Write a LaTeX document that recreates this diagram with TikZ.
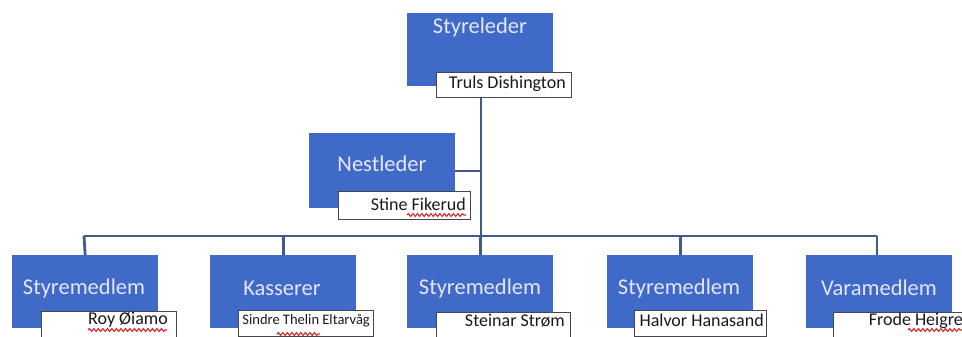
\documentclass[tikz,border=0pt]{standalone}
\usepackage{fontspec}
\setmainfont{Carlito}
\usetikzlibrary{decorations.pathmorphing}
\definecolor{boxblue}{RGB}{64,106,200}
\definecolor{linecol}{RGB}{66,90,138}
\definecolor{namebord}{RGB}{70,70,80}
\definecolor{squig}{RGB}{215,40,40}
\tikzset{
  titlebox/.style={fill=boxblue, draw=none, minimum width=146, minimum height=73, anchor=north west, inner sep=0},
  titletext/.style={text=white!90!blue, font=\fontsize{22.5}{26}\selectfont, inner sep=0},
  namebox/.style={fill=white, draw=namebord, line width=1.2, minimum width=134, minimum height=26, anchor=north west, inner sep=0},
  nametext/.style={text=black!90, font=\fontsize{18}{21}\selectfont, inner sep=0, anchor=east},
  conn/.style={draw=linecol, line width=2.8},
  spell/.style={draw=squig, line width=1.1, decorate, decoration={snake, amplitude=1.4, segment length=4.5}}
}
\begin{document}
\begin{tikzpicture}[x=1pt, y=-1pt]
\clip (0,0) rectangle (962,337);
\fill[white] (0,0) rectangle (962,337);

\coordinate (hl) at (84,236);
\coordinate (hr) at (877,236);
\coordinate (trunkbot) at (481,236);

% Styreleder
\node[titlebox] (sl) at (407,13) {};
\node[titletext] (slt) at (480,28) {Styreleder};
% Nestleder
\node[titlebox, minimum width=146, minimum height=75] (nl) at (309,133) {};
\node[titletext] (nlt) at (382,164) {Nestleder};

% bottom boxes
\node[titlebox] (b1) at (12,255) {};
\node[titletext] (b1t) at (84,288) {Styremedlem};
\node[titlebox] (b2) at (210,255) {};
\node[titletext] (b2t) at (282,288) {Kasserer};
\node[titlebox] (b3) at (407,255) {};
\node[titletext] (b3t) at (480,288) {Styremedlem};
\node[titlebox] (b4) at (607,255) {};
\node[titletext] (b4t) at (679,288) {Styremedlem};
\node[titlebox] (b5) at (806,255) {};
\node[titletext] (b5t) at (879,288) {Varamedlem};

% name boxes
\node[namebox, minimum width=135, minimum height=25] (n0) at (436,72) {};
\node[nametext] (n0t) at (566,84) {Truls Dishington};
\node[namebox, minimum width=132, minimum height=28] (nn) at (338,191) {};
\node[nametext] (nnt) at (466,204) {Stine Fikerud};

\node[namebox, minimum width=135] (n1) at (41,311) {};
\node[nametext] (n1t) at (168,320) {Roy Øiamo};
\node[namebox, minimum width=135] (n2) at (238,310) {};
\node[nametext, font=\fontsize{14.5}{17}\selectfont] (n2t) at (370,321) {Sindre Thelin Eltarvåg};
\node[namebox, minimum width=134] (n3) at (436,312) {};
\node[nametext] (n3t) at (565,321) {Steinar Strøm};
\node[namebox, minimum width=132] (n4) at (634,310) {};
\node[nametext] (n4t) at (764,320) {Halvor Hanasand};
\node[namebox, minimum width=140] (n5) at (833,312) {};
\node[nametext] (n5t) at (963,321) {Frode Heigre};

% connectors
\draw[conn] (n0.south -| trunkbot) -- (trunkbot);
\draw[conn] (nl.east |- 0,171) -- (481,171);
\draw[conn] (hl) -- (hr);
\draw[conn] (hl) -- (b1.north);
\draw[conn] (b2.north |- hl) -- (b2.north);
\draw[conn] (b3.north |- hl) -- (b3.north);
\draw[conn] (b4.north |- hl) -- (b4.north);
\draw[conn] (hr) -- (hr |- b5.north);

% spell-check squiggles
\draw[spell] (407,215) -- (466,215);
\draw[spell] (88,330) -- (167,330);
\draw[spell] (277,334) -- (320,334);
\draw[spell] (908,330) -- (962,330);
\end{tikzpicture}
\end{document}
